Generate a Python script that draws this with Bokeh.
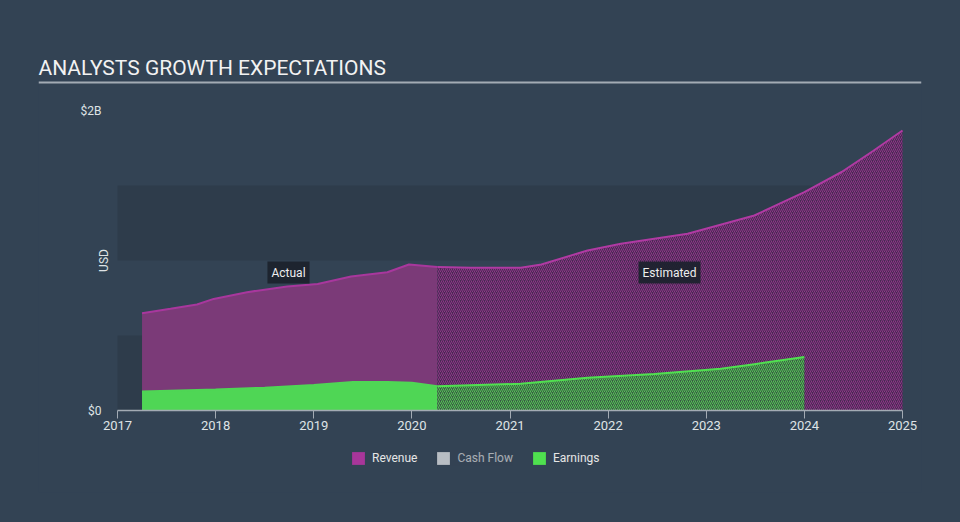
import math
from bokeh.plotting import figure
from bokeh.models import (Range1d, FixedTicker, Label, Legend, LegendItem, Span)
from bokeh.embed import file_html
from bokeh.resources import INLINE

# ---- data (values in billions USD) ----
rev_act_years = [2017.25, 2017.54, 2017.81, 2017.98, 2018.32, 2018.73, 2019.04, 2019.38, 2019.75, 2019.97, 2020.26]
rev_act = [0.648, 0.678, 0.707, 0.744, 0.789, 0.827, 0.844, 0.893, 0.922, 0.973, 0.956]

rev_est_years = [2020.26, 2020.6, 2021.11, 2021.32, 2021.79, 2022.13, 2022.81, 2023.49, 2024.0, 2024.38, 2024.7, 2025.0]
rev_est = [0.956, 0.952, 0.951, 0.973, 1.067, 1.111, 1.178, 1.30, 1.456, 1.59, 1.73, 1.867]

earn_act_years = [2017.25, 2018.0, 2018.5, 2019.0, 2019.4, 2019.75, 2020.0, 2020.26]
earn_act = [0.127, 0.14, 0.152, 0.17, 0.19, 0.19, 0.185, 0.162]

earn_est_years = [2020.26, 2021.11, 2021.79, 2022.47, 2023.15, 2023.49, 2024.0]
earn_est = [0.162, 0.178, 0.218, 0.244, 0.278, 0.309, 0.356]

x_ticks = [2017, 2018, 2019, 2020, 2021, 2022, 2023, 2024, 2025]
y_ticks = [0, 2]
y_tick_labels = {0: "$0", 2: "$2B"}
band_bottoms = [0.0, 1.0]
band_tops = [0.5, 1.5]
legend_labels = ["Revenue", "Cash Flow", "Earnings"]
title_text = "ANALYSTS GROWTH EXPECTATIONS"

BG = "#334354"
BAND = "#2e3c4b"
FONT = "Roboto"

# ---- layout geometry (pixels) ----
W, H = 960, 522
FRAME_L, FRAME_R, FRAME_T, FRAME_B = 38, 921, 80, 492
AX_L, AX_R, AX_Y = 117, 902, 410     # where 2017, 2025 and $0 sit
PX_YEAR = (AX_R - AX_L) / (x_ticks[-1] - x_ticks[0])
PX_UNIT = 150.0                       # pixels per billion

def xpix(px):
    return x_ticks[0] + (px - AX_L) / PX_YEAR

def ypix(py):
    return (AX_Y - py) / PX_UNIT

p = figure(width=W, height=H, output_backend="svg", toolbar_location=None,
           x_range=Range1d(xpix(FRAME_L), xpix(FRAME_R)),
           y_range=Range1d(ypix(FRAME_B), ypix(FRAME_T)),
           min_border_left=FRAME_L, min_border_right=W - FRAME_R,
           min_border_top=FRAME_T, min_border_bottom=H - FRAME_B)
p.background_fill_color = BG
p.border_fill_color = None
p.styles = {"background-color": BG}
p.outline_line_color = None
p.grid.visible = False

# title
p.title.text = title_text
p.title.align = "left"
p.title.offset = 0
p.title.standoff = 1
p.title.text_font = FONT
p.title.text_font_size = "21px"
p.title.text_font_style = "normal"
p.title.text_color = "#f2f2f2"
p.add_layout(Span(location=ypix(82), dimension="width", line_color="#a3abb4", line_width=2))

# bands
p.quad(left=x_ticks[0], right=x_ticks[-1], bottom=band_bottoms, top=band_tops,
       fill_color=BAND, line_color=None)

# revenue
p.varea(x=rev_act_years, y1=0, y2=rev_act, fill_color="#7b3a78")
p.line(rev_act_years, rev_act, line_color="#a8379d", line_width=2)
p.varea(x=rev_est_years, y1=0, y2=rev_est, fill_color="#472b53",
        hatch_pattern="/", hatch_color="#8f3587", hatch_scale=4, hatch_weight=1)
p.line(rev_est_years, rev_est, line_color="#b03aa3", line_width=2)

# earnings
p.varea(x=earn_act_years, y1=0, y2=earn_act, fill_color="#4fd655")
p.line(earn_act_years, earn_act, line_color="#4fd655", line_width=2)
p.varea(x=earn_est_years, y1=0, y2=earn_est, fill_color="#395b45",
        hatch_pattern="/", hatch_color="#55c455", hatch_scale=4, hatch_weight=1)
p.line(earn_est_years, earn_est, line_color="#50e050", line_width=2)

# x axis, pinned at $0
xa = p.xaxis[0]
xa.fixed_location = 0
xa.ticker = FixedTicker(ticks=x_ticks)
xa.bounds = (x_ticks[0], x_ticks[-1])
xa.axis_line_color = "#a3abb4"
xa.axis_line_width = 1.5
xa.major_tick_line_color = "#a3abb4"
xa.major_tick_out = 8
xa.major_tick_in = 0
xa.minor_tick_line_color = None
xa.minor_tick_out = 0
xa.major_label_text_color = "#dfe3e6"
xa.major_label_text_font = FONT
xa.major_label_text_font_size = "13px"
xa.major_label_standoff = 2

# y axis, pinned at the first year
ya = p.yaxis[0]
ya.fixed_location = x_ticks[0]
ya.ticker = FixedTicker(ticks=y_ticks)
ya.major_label_overrides = y_tick_labels
ya.axis_line_color = None
ya.major_tick_line_color = None
ya.major_tick_out = 0
ya.major_tick_in = 0
ya.minor_tick_line_color = None
ya.minor_tick_out = 0
ya.major_label_text_color = "#dfe3e6"
ya.major_label_text_font = FONT
ya.major_label_text_font_size = "12px"
ya.major_label_standoff = 16

p.add_layout(Label(x=xpix(103), y=1.0, text="USD", angle=math.pi / 2,
                   text_align="center", text_baseline="middle", text_color="#dfe3e6",
                   text_font=FONT, text_font_size="12px"))

# Actual / Estimated labels
p.add_layout(Label(x=xpix(288), y=ypix(272), text="Actual", text_align="center", text_baseline="middle",
                   text_color="#eeeeee", text_font=FONT, text_font_size="12px",
                   background_fill_color="#1b222c", background_fill_alpha=0.92, padding=4))
p.add_layout(Label(x=xpix(669), y=ypix(272), text="Estimated", text_align="center", text_baseline="middle",
                   text_color="#eeeeee", text_font=FONT, text_font_size="12px",
                   background_fill_color="#1b222c", background_fill_alpha=0.92, padding=4))

# legend swatches (degenerate one-point areas draw nothing on the chart)
r_rev = p.varea(x=[x_ticks[0]], y1=[0], y2=[0], fill_color="#a8369a")
r_cf = p.varea(x=[x_ticks[0]], y1=[0], y2=[0], fill_color="#ffffff", visible=False)
r_earn = p.varea(x=[x_ticks[0]], y1=[0], y2=[0], fill_color="#4fe04f")
legend = Legend(items=[LegendItem(label=legend_labels[0], renderers=[r_rev]),
                       LegendItem(label=legend_labels[1], renderers=[r_cf]),
                       LegendItem(label=legend_labels[2], renderers=[r_earn])],
                location=(350 - FRAME_L, FRAME_B - 466), orientation="horizontal", click_policy="hide",
                inactive_fill_color=BG, inactive_fill_alpha=0.35,
                glyph_width=16, glyph_height=16, label_height=16, label_standoff=6, spacing=18,
                padding=0, margin=0, border_line_color=None, background_fill_alpha=0,
                label_text_color="#e6e6e6", label_text_font=FONT, label_text_font_size="12px")
p.add_layout(legend, "center")

open("out.html", "w").write(file_html(p, INLINE))
